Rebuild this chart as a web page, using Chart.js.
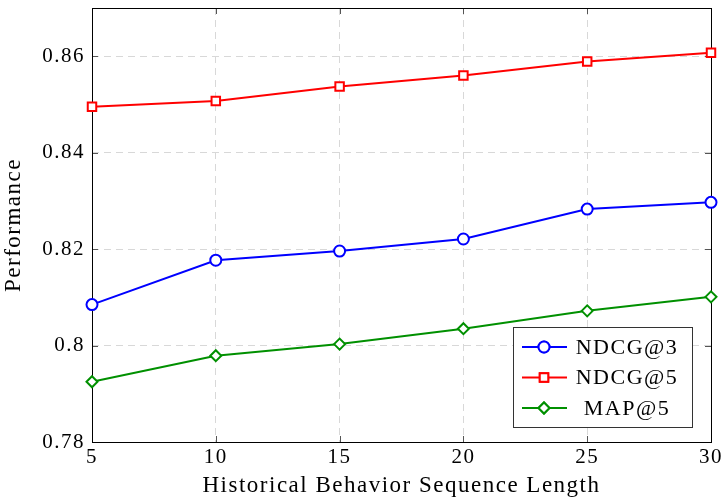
<!DOCTYPE html>
<html>
<head>
<meta charset="utf-8">
<script src="https://cdn.jsdelivr.net/npm/chart.js@4.4.1/dist/chart.umd.min.js"></script>
<style>
  html, body { margin: 0; padding: 0; background: #fff; }
  #wrap { width: 723px; height: 500px; }
</style>
</head>
<body>
<div id="wrap"><canvas id="perfChart" width="723" height="500"></canvas></div>
<script>
// sequence lengths on the x axis
const seqLengths = [5, 10, 15, 20, 25, 30];
const ndcg3 = [0.8085, 0.8177, 0.8196, 0.8221, 0.8283, 0.8297];
const ndcg5 = [0.8495, 0.8507, 0.8537, 0.8560, 0.8589, 0.8607];
const map5 = [0.7925, 0.7979, 0.8003, 0.8035, 0.8072, 0.8101];
const xTicks = [5, 10, 15, 20, 25, 30];
const yTicks = [0.78, 0.8, 0.82, 0.84, 0.86];

const serif = '"Liberation Serif", "DejaVu Serif", serif';

function toPoints(vals) {
  return seqLengths.map((x, i) => ({ x: x, y: vals[i] }));
}

// frame, inner tick marks and legend box like pgfplots
const framePlugin = {
  id: 'frame',
  beforeDraw(chart) {
    chart.ctx.letterSpacing = '1.5px';
  },
  beforeDatasetsDraw(chart) {
    const { ctx, chartArea: a, scales } = chart;
    ctx.save();
    ctx.strokeStyle = '#555';
    ctx.lineWidth = 1;
    const len = 6;
    xTicks.forEach(v => {
      const px = Math.round(scales.x.getPixelForValue(v)) + 0.5;
      ctx.beginPath();
      ctx.moveTo(px, a.bottom); ctx.lineTo(px, a.bottom - len);
      ctx.moveTo(px, a.top); ctx.lineTo(px, a.top + len);
      ctx.stroke();
    });
    yTicks.forEach(v => {
      const py = Math.round(scales.y.getPixelForValue(v)) + 0.5;
      ctx.beginPath();
      ctx.moveTo(a.left, py); ctx.lineTo(a.left + len, py);
      ctx.moveTo(a.right, py); ctx.lineTo(a.right - len, py);
      ctx.stroke();
    });
    ctx.strokeStyle = '#000';
    ctx.strokeRect(Math.round(a.left) + 0.5, Math.round(a.top) + 0.5,
      Math.round(a.right - a.left), Math.round(a.bottom - a.top));
    ctx.restore();
  },
  afterDraw(chart) {
    const { ctx, chartArea: a } = chart;
    const bw = 179, bh = 100;
    const bx = a.right - 19 - bw, by = a.bottom - 15 - bh;
    ctx.save();
    ctx.fillStyle = '#fff';
    ctx.fillRect(bx, by, bw, bh);
    ctx.strokeStyle = '#333';
    ctx.lineWidth = 1;
    ctx.strokeRect(bx + 0.5, by + 0.5, bw, bh);
    chart.data.datasets.forEach((ds, i) => {
      const cy = by + 20 + i * 30.5;
      ctx.strokeStyle = ds.borderColor;
      ctx.lineWidth = 2;
      ctx.beginPath();
      ctx.moveTo(bx + 9, cy); ctx.lineTo(bx + 54, cy);
      ctx.stroke();
      Chart.helpers.drawPoint(ctx, {
        pointStyle: ds.pointStyle, radius: ds.pointRadius, rotation: 0,
        borderWidth: 2
      }, bx + 31, cy);
      ctx.fillStyle = '#fff';
      ctx.fill();
      ctx.stroke();
      ctx.fillStyle = '#000';
      ctx.font = '22px ' + serif;
      ctx.textAlign = 'center';
      ctx.textBaseline = 'middle';
      ctx.fillText(ds.label, bx + 114, cy + 1);
    });
    ctx.restore();
  }
};

const ctx = document.getElementById('perfChart').getContext('2d');
const perfChart = new Chart(ctx, {
  type: 'line',
  data: {
    datasets: [
      { label: 'NDCG@3', data: toPoints(ndcg3), borderColor: '#0000ff', backgroundColor: '#fff',
        pointStyle: 'circle', pointRadius: 5.5, pointBorderWidth: 2, borderWidth: 2, clip: false },
      { label: 'NDCG@5', data: toPoints(ndcg5), borderColor: '#ff0000', backgroundColor: '#fff',
        pointStyle: 'rect', pointRadius: 6, pointBorderWidth: 2, borderWidth: 2, clip: false },
      { label: 'MAP@5', data: toPoints(map5), borderColor: '#009000', backgroundColor: '#fff',
        pointStyle: 'rectRot', pointRadius: 5.5, pointBorderWidth: 2, borderWidth: 2, clip: false }
    ]
  },
  options: {
    responsive: false,
    animation: false,
    devicePixelRatio: 1,
    layout: { padding: { top: 8, right: 12, left: 0, bottom: 0 } },
    plugins: {
      legend: { display: false },
      tooltip: { enabled: false }
    },
    scales: {
      x: {
        type: 'linear',
        min: 5,
        max: 30,
        afterBuildTicks: s => { s.ticks = xTicks.map(v => ({ value: v })); },
        afterFit: s => { s.height = 58; s.paddingLeft = 0; s.paddingRight = 0; },
        ticks: { color: '#000', font: { family: serif, size: 21 }, padding: 3, maxRotation: 0 },
        grid: { color: '#d8d8d8', drawTicks: false, lineWidth: 1 },
        border: { display: false, dash: [7, 5] },
        title: { display: true, text: 'Historical Behavior Sequence Length', color: '#000',
          font: { family: serif, size: 23 }, padding: { top: 0, bottom: 0 } }
      },
      y: {
        min: 0.78,
        max: 0.87,
        afterBuildTicks: s => { s.ticks = yTicks.map(v => ({ value: v })); },
        afterFit: s => { s.width = 92; s.paddingTop = 0; s.paddingBottom = 0; },
        ticks: { color: '#000', font: { family: serif, size: 21 }, padding: 7,
          callback: v => String(v) },
        grid: { color: '#d8d8d8', drawTicks: false, lineWidth: 1 },
        border: { display: false, dash: [7, 5] },
        title: { display: true, text: 'Performance', color: '#000',
          font: { family: serif, size: 23 }, padding: { top: 0, bottom: 2 } }
      }
    }
  },
  plugins: [framePlugin]
});
</script>
</body>
</html>
